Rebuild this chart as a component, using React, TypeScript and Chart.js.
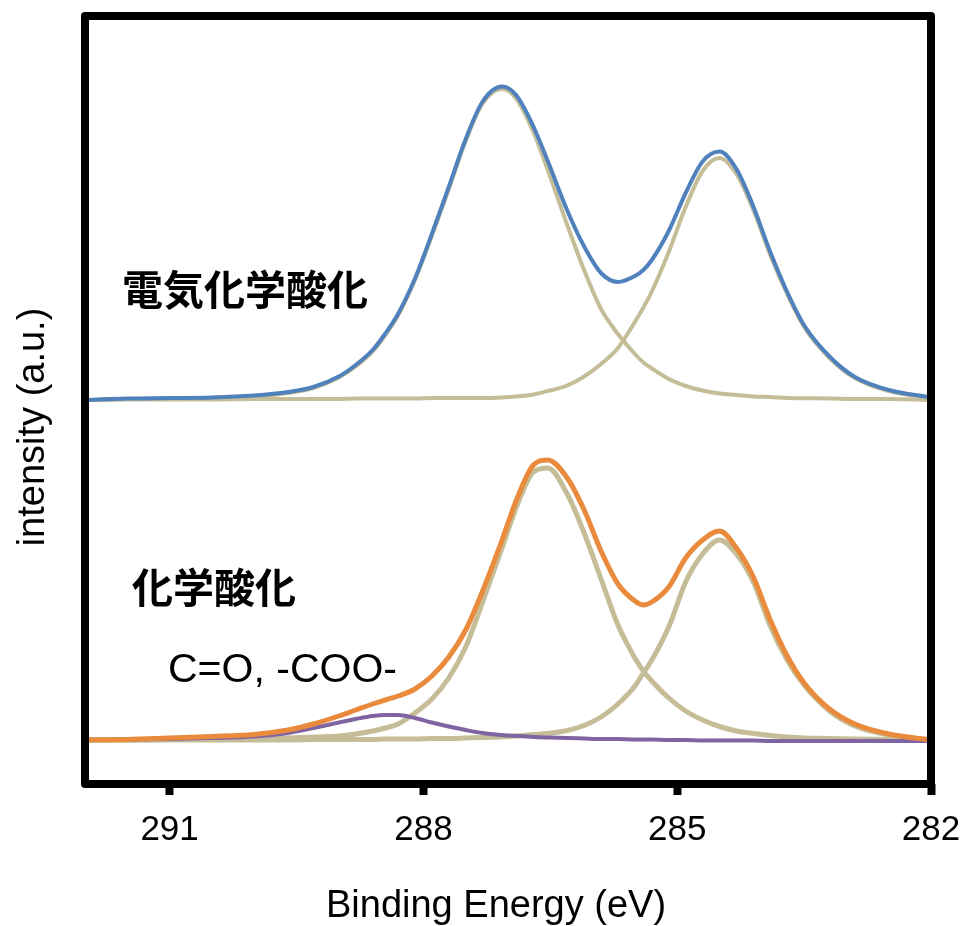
import React, { useEffect, useRef } from "react";
import { Chart, registerables } from "chart.js";

Chart.register(...registerables);

// Binding energy grid (eV)
const energies = [292, 291.5, 291, 290.5, 290, 289.6, 289.3, 289.0, 288.8, 288.6, 288.45, 288.3, 288.1, 287.9, 287.7, 287.5, 287.3, 287.07, 286.9, 286.7, 286.53, 286.3, 286.1, 285.9, 285.7, 285.5, 285.4, 285.3, 285.1, 284.9, 284.7, 284.5, 284.3, 284.1, 283.9, 283.7, 283.5, 283.2, 282.9, 282.5, 282];

// 電気化学酸化 (upper, offset spectrum)
const upperEnvelope = [384, 385.5, 386, 386.5, 388.5, 392, 397, 407.5, 419, 434, 450.5, 470, 505.5, 550, 597, 645, 682.5, 697.5, 688.5, 657.5, 623, 573.5, 537.5, 511, 502, 508, 514, 524, 553, 591, 622.5, 632.5, 615, 577.5, 532, 492, 458.8, 427.5, 407, 394, 386.5];
const upperPeakA = [384, 385, 385.5, 386, 387.5, 391, 396, 406.5, 417.5, 432.5, 449, 468.5, 504, 548, 595, 643, 680.5, 695, 685, 652, 614, 559, 514, 475, 450, 430, 421.5, 415.5, 405, 398, 393.5, 390.5, 389, 387.5, 387, 386, 385.8, 385.5, 385, 385, 384];
const upperPeakB = [384, 384.5, 384.5, 384.5, 385, 385, 385, 385, 385.5, 385.5, 385.5, 385.5, 385.5, 386, 386, 386, 386, 386.5, 387.5, 389.5, 393, 398.5, 407.5, 420, 436, 462, 476.5, 492.5, 532, 577, 613, 626, 610, 574, 529, 490, 457, 426, 406, 393, 386.5];

// 化学酸化 (lower spectrum)
const lowerEnvelope = [44, 44.5, 46, 47.5, 49.5, 54, 60, 68, 74, 80, 84, 88, 95, 108, 127, 154, 193, 244, 284, 319, 324, 306, 274, 233, 200, 183, 179, 182, 197, 226, 244, 253, 236, 207, 164, 128, 101, 75, 60, 50, 44];
const lowerPeakA = [44, 44, 44.5, 45, 45.5, 46, 47, 48, 50, 53, 56, 60, 71, 85, 106, 137, 182, 236, 277, 312, 316, 290, 251, 205, 159, 126, 113, 103, 86, 73, 64, 57.5, 53, 50.5, 48.5, 47, 46, 45.5, 45, 44.5, 44];
const lowerPeakB = [44, 44, 44, 44, 44, 44, 44.5, 44.5, 44.5, 44.5, 45, 45, 45, 45.5, 45.5, 46, 46.5, 47, 48, 49.5, 50.5, 53.5, 58.5, 67, 80, 98, 111, 124, 157, 202, 230, 244, 230, 202, 158, 124, 99, 73, 58, 49, 44];
const lowerPeakCOO = [44, 44.5, 45, 46, 47.5, 51, 56, 61.5, 65, 68, 69, 69, 66, 61.5, 57.5, 54, 51, 49, 48, 47, 46.5, 46, 45.5, 45, 45, 44.5, 44.5, 44.5, 44, 44, 43.5, 43.5, 43.5, 43.5, 43, 43, 43, 43, 43, 43, 43];

const xTicks = [291, 288, 285, 282];

const BLUE = "#4F81BD";
const TAN = "#C4BD97";
const ORANGE = "#E98A3C";
const PURPLE = "#8064A2";
const LATIN = "'Liberation Sans', Arial, sans-serif";
const CJK = "'Noto Sans CJK JP', 'Noto Sans CJK SC', sans-serif";

const pts = (ys: number[]) => energies.map((x, i) => ({ x, y: ys[i] }));

const frameAndText = {
  id: "frameAndText",
  afterDatasetsDraw(chart: any) {
    const { ctx, chartArea } = chart;
    const { left, right, top, bottom } = chartArea;
    ctx.save();
    ctx.strokeStyle = "#000";
    ctx.lineWidth = 8;
    ctx.lineJoin = "round";
    ctx.strokeRect(left, top, right - left, bottom - top);
    ctx.restore();
  },
  afterDraw(chart: any) {
    const { ctx } = chart;
    ctx.save();
    ctx.fillStyle = "#000";
    ctx.textBaseline = "alphabetic";
    ctx.textAlign = "left";
    ctx.font = `bold 41px ${CJK}`;
    ctx.fillText("電気化学酸化", 122, 305);
    ctx.fillText("化学酸化", 132, 603);
    ctx.font = `41px ${LATIN}`;
    ctx.fillText("C=O, -COO-", 168, 682);
    ctx.font = `38px ${LATIN}`;
    ctx.textAlign = "center";
    ctx.fillText("Binding Energy (eV)", 496, 917);
    ctx.translate(44, 427);
    ctx.rotate(-Math.PI / 2);
    ctx.fillText("intensity (a.u.)", 0, 0);
    ctx.restore();
  },
};

export default function App() {
  const ref = useRef<HTMLCanvasElement | null>(null);
  useEffect(() => {
    if (!ref.current) return;
    const line = (data: number[], color: string, width: number, order: number) => ({
      data: pts(data),
      borderColor: color,
      backgroundColor: color,
      borderWidth: width,
      pointRadius: 0,
      fill: false,
      cubicInterpolationMode: "monotone" as const,
      order,
    });
    const chart = new Chart(ref.current, {
      type: "line",
      data: {
        datasets: [
          line(upperEnvelope, BLUE, 4, 1),
          line(lowerEnvelope, ORANGE, 5, 1),
          line(lowerPeakCOO, PURPLE, 4, 2),
          line(upperPeakA, TAN, 4, 3),
          line(upperPeakB, TAN, 4, 3),
          line(lowerPeakA, TAN, 5, 3),
          line(lowerPeakB, TAN, 5, 3),
        ],
      },
      options: {
        responsive: false,
        animation: false,
        layout: { padding: { left: 85, right: 33, top: 16, bottom: 0 } },
        plugins: { legend: { display: false }, tooltip: { enabled: false } },
        scales: {
          x: {
            type: "linear",
            reverse: true,
            min: 282,
            max: 292,
            afterBuildTicks: (scale: any) => {
              scale.ticks = xTicks.map((v) => ({ value: v }));
            },
            afterFit: (scale: any) => {
              scale.height = 142;
              scale.paddingLeft = 0;
              scale.paddingRight = 0;
            },
            border: { display: false },
            grid: {
              drawOnChartArea: false,
              drawTicks: true,
              tickLength: 11,
              tickWidth: 8,
              tickColor: "#000",
            },
            ticks: {
              autoSkip: false,
              maxRotation: 0,
              padding: 14,
              color: "#000",
              font: { family: LATIN, size: 35 },
              callback: (v: any) => String(v),
            },
          },
          y: {
            display: false,
            min: 0,
            max: 768,
          },
        },
      },
      plugins: [frameAndText],
    });
    return () => chart.destroy();
  }, []);
  return (
    <div style={{ position: "fixed", left: 0, top: 0, width: 964, height: 926, background: "#fff" }}>
      <canvas ref={ref} width={964} height={926} />
    </div>
  );
}
